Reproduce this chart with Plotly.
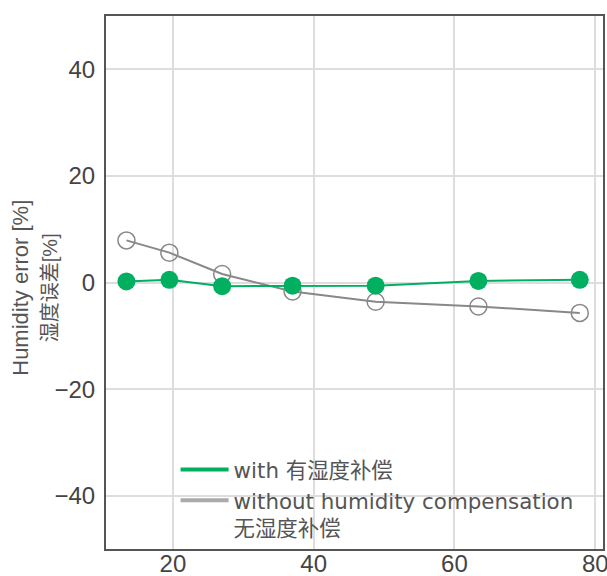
import plotly.graph_objects as go

x_vals = [13.4, 19.5, 27.0, 37.0, 48.8, 63.4, 77.8]
with_comp = [0.2, 0.5, -0.7, -0.6, -0.6, 0.3, 0.5]
without_comp = [7.9, 5.6, 1.6, -1.7, -3.6, -4.5, -5.7]
x_ticks = [20, 40, 60, 80]
y_ticks = [-40, -20, 0, 20, 40]
name_with = "with 有湿度补偿"
name_without = "without humidity compensation<br>无湿度补偿"
y_title = "Humidity error [%]<br><span style='font-size:20px'>湿度误差[%]</span>"

GREEN = "#00b060"
GRAY = "#888888"

fig = go.Figure()
fig.add_trace(go.Scatter(
    x=x_vals, y=without_comp, mode="lines+markers", showlegend=False,
    line=dict(color=GRAY, width=2),
    marker=dict(size=17, color="rgba(255,255,255,0)", line=dict(color=GRAY, width=1.5)),
))
fig.add_trace(go.Scatter(
    x=x_vals, y=with_comp, mode="lines+markers", showlegend=False,
    line=dict(color=GREEN, width=2),
    marker=dict(size=18, color=GREEN),
))
fig.add_trace(go.Scatter(x=[None], y=[None], mode="lines", name=name_with,
                         line=dict(color=GREEN, width=4)))
fig.add_trace(go.Scatter(x=[None], y=[None], mode="lines", name=name_without,
                         line=dict(color="#aaaaaa", width=4)))

fig.update_layout(
    width=607, height=576,
    margin=dict(l=106, r=4, t=16, b=27, autoexpand=False),
    plot_bgcolor="white", paper_bgcolor="white",
    font=dict(family="Liberation Sans, Noto Sans CJK SC", color="#555555"),
    legend=dict(x=0.14, y=0.0, xanchor="left", yanchor="bottom",
                bgcolor="rgba(0,0,0,0)",
                font=dict(family="DejaVu Sans, Noto Sans CJK SC", size=21.4, color="#555555"),
                itemwidth=48, valign="top", tracegroupgap=0),
)
fig.add_annotation(text=y_title, textangle=-90, xref="paper", yref="paper",
                   x=-0.143, y=0.49, xanchor="center", yanchor="middle", showarrow=False,
                   font=dict(size=22, color="#555555", family="Liberation Sans, Noto Sans CJK SC"))
fig.update_xaxes(range=[10.5, 81.1], tickvals=x_ticks, showgrid=True, gridcolor="#dddddd", gridwidth=1.5,
                 showline=True, linecolor="#555555", linewidth=2, mirror=True, automargin=False,
                 zeroline=False, tickfont=dict(size=24, color="#444444"), ticks="", ticklen=0,
                 ticklabelstandoff=-8, ticklabeloverflow="allow")
fig.update_yaxes(range=[-50, 50], tickvals=y_ticks, showgrid=True, gridcolor="#dddddd", gridwidth=1.5,
                 showline=True, linecolor="#555555", linewidth=2, mirror=True, automargin=False,
                 zeroline=False, tickfont=dict(size=24, color="#444444"), ticks="", ticklen=0,
                 ticklabelstandoff=4)

fig.write_html("out.html")
